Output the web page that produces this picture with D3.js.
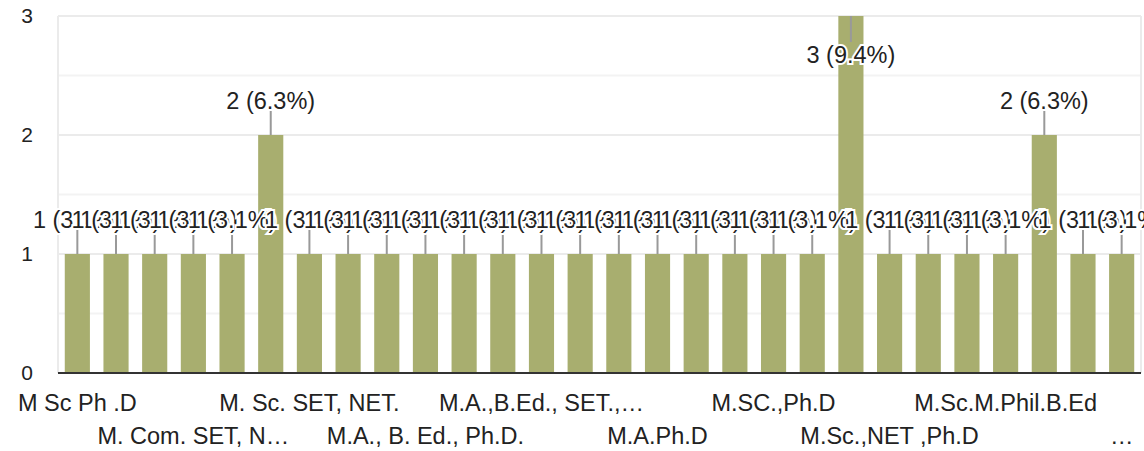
<!DOCTYPE html>
<html>
<head>
<meta charset="utf-8">
<script src="https://cdn.jsdelivr.net/npm/d3@7"></script>
<style>
  body { margin: 0; background: #fff; }
  text { font-family: Arial, "Liberation Sans", sans-serif; }
</style>
</head>
<body>
<div id="chart"></div>
<script>
// axis labels shown every third bar; the rest are hidden in the original
const categories = [
  "M Sc Ph .D", "", "", "M. Com. SET, N…", "", "", "M. Sc. SET, NET.", "", "",
  "M.A., B. Ed., Ph.D.", "", "", "M.A.,B.Ed., SET.,…", "", "", "M.A.Ph.D", "", "",
  "M.SC.,Ph.D", "", "", "M.Sc.,NET ,Ph.D", "", "", "M.Sc.M.Phil.B.Ed", "", "", "…"
];
const counts = [1, 1, 1, 1, 1, 2, 1, 1, 1, 1, 1, 1, 1, 1, 1, 1, 1, 1, 1, 1, 3, 1, 1, 1, 1, 2, 1, 1];
const yTicks = [0, 1, 2, 3];

const total = d3.sum(counts);
const data = counts.map((v, i) => ({ i, v, name: categories[i] }));

const w = 1144, h = 451;
const padL = 58, padR = 1141, padT = 16, padB = 373;

const x = d3.scaleBand()
  .domain(data.map(d => d.i))
  .range([padL, padR])
  .paddingInner(0.35)
  .paddingOuter(0.175);

const y = d3.scaleLinear().domain([0, 3]).range([padB, padT]);

const svg = d3.select("#chart").append("svg")
  .attr("width", w)
  .attr("height", h);

// minor grid
svg.append("g").selectAll("line")
  .data(d3.range(0.5, 3, 1))
  .join("line")
  .attr("x1", padL).attr("x2", padR)
  .attr("y1", d => y(d)).attr("y2", d => y(d))
  .attr("stroke", "#f3f3f3").attr("stroke-width", 2);

// major grid
svg.append("g").selectAll("line")
  .data(yTicks.slice(1))
  .join("line")
  .attr("x1", padL).attr("x2", padR)
  .attr("y1", d => y(d)).attr("y2", d => y(d))
  .attr("stroke", "#ebebeb").attr("stroke-width", 2);

// frame sides
svg.append("line").attr("x1", padL).attr("x2", padL).attr("y1", padT).attr("y2", padB)
  .attr("stroke", "#ebebeb").attr("stroke-width", 2);
svg.append("line").attr("x1", padR).attr("x2", padR).attr("y1", padT).attr("y2", padB)
  .attr("stroke", "#ebebeb").attr("stroke-width", 2);

// y tick labels
svg.append("g").selectAll("text")
  .data(yTicks)
  .join("text")
  .attr("x", 33)
  .attr("y", d => y(d))
  .attr("dy", "0.35em")
  .attr("text-anchor", "end")
  .attr("font-size", 21)
  .attr("fill", "#222")
  .text(d => d);

// bars
svg.append("g").selectAll("rect")
  .data(data)
  .join("rect")
  .attr("x", d => x(d.i))
  .attr("y", d => y(d.v))
  .attr("width", x.bandwidth())
  .attr("height", d => y(0) - y(d.v))
  .attr("fill", "#a8ae6f");

// baseline
svg.append("line")
  .attr("x1", padL).attr("x2", padR)
  .attr("y1", y(0)).attr("y2", y(0))
  .attr("stroke", "#333").attr("stroke-width", 2);

// annotation leaders: go up, or down inside the bar when it hits the top
const inside = d => d.v === 3;
svg.append("g").selectAll("line")
  .data(data)
  .join("line")
  .attr("x1", d => x(d.i) + x.bandwidth() / 2)
  .attr("x2", d => x(d.i) + x.bandwidth() / 2)
  .attr("y1", d => y(d.v))
  .attr("y2", d => inside(d) ? y(d.v) + 26 : y(d.v) - 25)
  .attr("stroke", "#999")
  .attr("stroke-width", 2);

// annotation labels with white halo
svg.append("g").selectAll("text")
  .data(data)
  .join("text")
  .attr("x", d => x(d.i) + x.bandwidth() / 2)
  .attr("y", d => inside(d) ? y(d.v) + 39 : y(d.v) - 34)
  .attr("dy", "0.35em")
  .attr("text-anchor", "middle")
  .attr("font-size", 23.5)
  .attr("fill", "#222")
  .attr("stroke", "#fff")
  .attr("stroke-width", 4)
  .attr("paint-order", "stroke")
  .text(d => `${d.v} (${(d.v / total * 100).toFixed(1)}%)`);

// x labels, two staggered rows
svg.append("g").selectAll("text")
  .data(data.filter(d => d.name))
  .join("text")
  .attr("x", d => x(d.i) + x.bandwidth() / 2)
  .attr("y", (d, k) => k % 2 === 0 ? 403 : 436)
  .attr("dy", "0.35em")
  .attr("text-anchor", "middle")
  .attr("font-size", 23.5)
  .attr("fill", "#222")
  .text(d => d.name);
</script>
</body>
</html>
